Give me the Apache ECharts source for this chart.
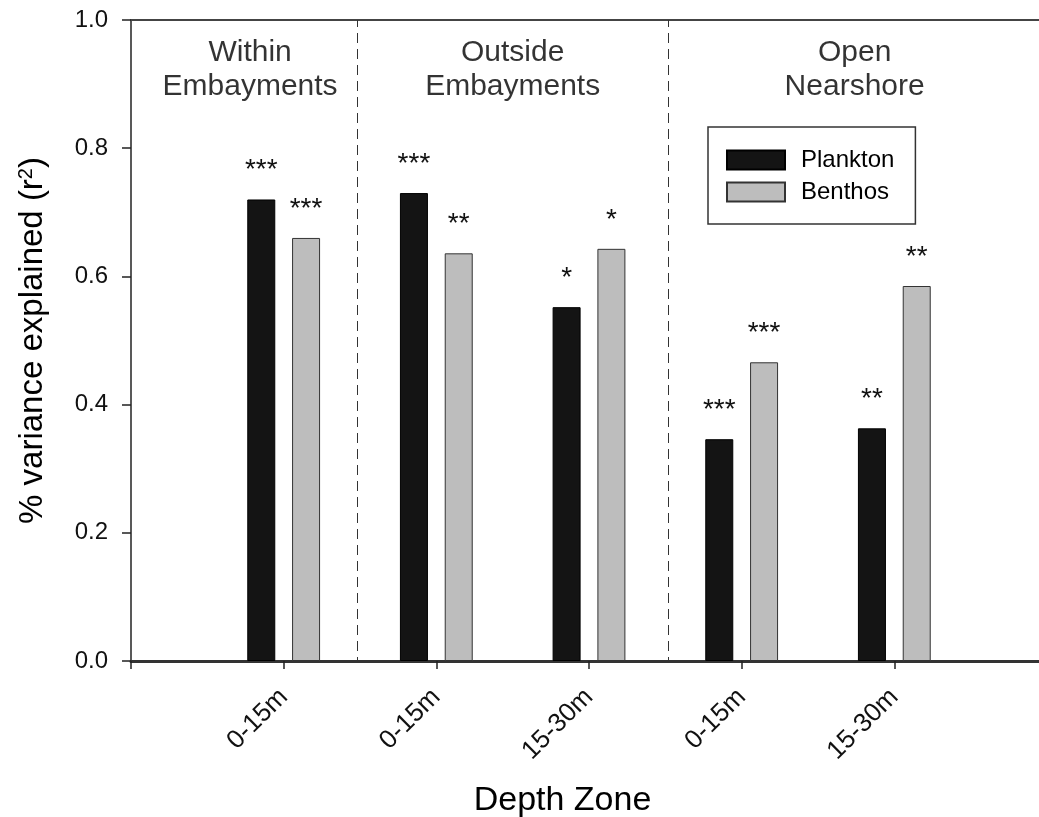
<!DOCTYPE html>
<html><head><meta charset="utf-8">
<script src="https://cdn.jsdelivr.net/npm/echarts@6/dist/echarts.min.js"></script>
<style>html,body{margin:0;padding:0;background:#fff}#c{width:1039px;height:817px}</style>
</head><body><div id="c"></div>
<script>
// ---- data ----
const categoryIds   = ['start', 'within_0_15', 'outside_0_15', 'outside_15_30', 'open_0_15', 'open_15_30', 'end'];
const depthLabels   = ['', '0-15m', '0-15m', '15-30m', '0-15m', '15-30m', ''];
const plankton      = [null, 0.72, 0.73, 0.552, 0.346, 0.363, null];
const benthos       = [null, 0.66, 0.636, 0.643, 0.466, 0.585, null];
const planktonSig   = ['', '***', '***', '*', '***', '**', ''];
const benthosSig    = ['', '***', '**', '*', '***', '**', ''];
const groupNames    = ['Within\nEmbayments', 'Outside\nEmbayments', 'Open\nNearshore'];
const groupCenters  = [0.78, 2.5, 4.74];
const groupLabelY   = [0.923, 0.923, 0.923];
const groupBounds   = [1.48, 3.52];
const seriesNames   = ['Plankton', 'Benthos'];

const FONT = '"Liberation Sans", Arial, Helvetica, sans-serif';
const chart = echarts.init(document.getElementById('c'), null, {renderer: 'canvas'});

chart.setOption({
  animation: false,
  backgroundColor: '#fff',
  textStyle: {fontFamily: FONT},
  grid: {left: 131, right: -8, top: 20, bottom: 156, containLabel: false, outerBoundsMode: 'none'},
  legend: {
    data: seriesNames,
    icon: 'rect',
    orient: 'vertical',
    left: 708, top: 127,
    itemWidth: 58, itemHeight: 19, itemGap: 8,
    padding: [21, 21, 20, 18],
    borderColor: '#333', borderWidth: 1.5,
    textStyle: {fontFamily: FONT, fontSize: 24, color: '#000', lineHeight: 24, padding: [0, 0, 0, 11]}
  },
  xAxis: [{
    type: 'category',
    data: categoryIds,
    boundaryGap: false,
    axisLine: {show: true, lineStyle: {color: '#333', width: 3}},
    axisTick: {show: true, length: 8, lineStyle: {color: '#222', width: 1.5}},
    axisLabel: {
      interval: 0, rotate: 45, margin: 32, fontSize: 26, color: '#111', fontFamily: FONT,
      formatter: (v, i) => depthLabels[i]
    },
    splitLine: {show: false},
    name: 'Depth Zone', nameLocation: 'middle', nameGap: 123,
    nameTextStyle: {fontSize: 34, color: '#000', fontFamily: FONT, padding: [0, 53, 0, 0]}
  }, {
    type: 'value', position: 'top', min: 0, max: 6,
    axisLine: {show: true, lineStyle: {color: '#444', width: 2}},
    axisTick: {show: false}, axisLabel: {show: false}, splitLine: {show: false}
  }],
  yAxis: {
    type: 'value', min: 0, max: 1, interval: 0.2,
    axisLine: {show: true, lineStyle: {color: '#222', width: 1.5}},
    axisTick: {show: true, length: 9, lineStyle: {color: '#222', width: 1.5}},
    axisLabel: {fontSize: 24, margin: 23, color: '#111', fontFamily: FONT, formatter: v => v.toFixed(1)},
    splitLine: {show: false},
    name: '% variance explained (r{sup|2})',
    nameLocation: 'middle', nameGap: 82,
    nameTextStyle: {
      fontSize: 33, color: '#000', fontFamily: FONT,
      rich: {sup: {fontSize: 20, verticalAlign: 'top', color: '#000', fontFamily: FONT}}
    }
  },
  series: [{
    name: seriesNames[0], type: 'bar', xAxisIndex: 0,
    data: plankton, barWidth: 28, barGap: '60%',
    itemStyle: {color: '#141414', borderColor: '#000', borderWidth: 1},
    label: {show: true, position: 'top', distance: 15, fontSize: 28, color: '#111', fontFamily: FONT,
            formatter: p => planktonSig[p.dataIndex]}
  }, {
    name: seriesNames[1], type: 'bar', xAxisIndex: 0,
    data: benthos, barWidth: 28, barGap: '60%',
    itemStyle: {color: '#bdbdbd', borderColor: '#333', borderWidth: 1},
    label: {show: true, position: 'top', distance: 15, fontSize: 28, color: '#111', fontFamily: FONT,
            formatter: p => benthosSig[p.dataIndex]}
  }, {
    name: 'groups', type: 'scatter', xAxisIndex: 1, silent: true,
    symbolSize: 1, itemStyle: {color: 'transparent'},
    data: groupCenters.map((x, i) => [x, groupLabelY[i]]),
    label: {show: true, position: 'inside', fontSize: 30, lineHeight: 34, color: '#000', fontFamily: FONT,
            align: 'center', formatter: p => groupNames[p.dataIndex]},
    markLine: {
      silent: true, symbol: 'none', label: {show: false},
      lineStyle: {type: [10, 6], dashOffset: 6, color: '#333', width: 1},
      data: groupBounds.map(x => ({xAxis: x}))
    }
  }]
});
</script></body></html>
